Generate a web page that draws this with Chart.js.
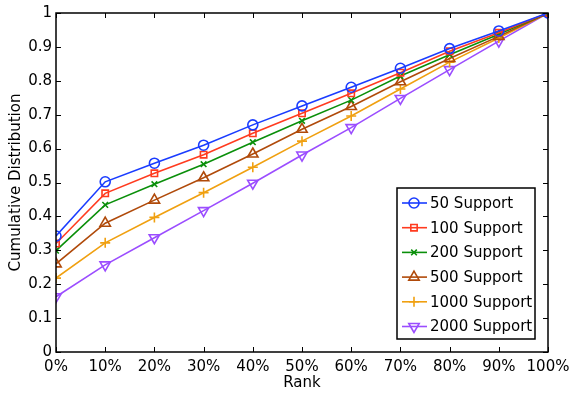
<!DOCTYPE html>
<html>
<head>
  <meta charset="UTF-8">
  <title>Cumulative Distribution by Rank</title>
  <script src="https://cdn.jsdelivr.net/npm/chart.js"></script>
  <style>
    html, body {
      margin: 0;
      padding: 0;
      background: white;
    }
    #wrap {
      width: 570px;
      height: 394px;
    }
  </style>
</head>
<body>
  <div id="wrap"><canvas id="cdf"></canvas></div>

  <script>
    const rankPct = [0, 10, 20, 30, 40, 50, 60, 70, 80, 90, 100];
    const support50   = [0.342, 0.502, 0.557, 0.610, 0.670, 0.726, 0.781, 0.837, 0.895, 0.947, 1];
    const support100  = [0.320, 0.468, 0.527, 0.582, 0.645, 0.704, 0.763, 0.824, 0.887, 0.942, 1];
    const support200  = [0.299, 0.434, 0.495, 0.554, 0.619, 0.682, 0.743, 0.814, 0.877, 0.937, 1];
    const support500  = [0.260, 0.380, 0.448, 0.514, 0.584, 0.657, 0.724, 0.797, 0.866, 0.931, 1];
    const support1000 = [0.218, 0.322, 0.397, 0.470, 0.545, 0.622, 0.696, 0.776, 0.855, 0.926, 1];
    const support2000 = [0.163, 0.257, 0.337, 0.417, 0.498, 0.581, 0.662, 0.748, 0.833, 0.917, 1];
    const seriesLabels = ["50 Support", "100 Support", "200 Support", "500 Support", "1000 Support", "2000 Support"];

    const FONT = "'DejaVu Sans', Arial, sans-serif";

    const styles = [
      { color: "#1a3cff", pointStyle: "circle",   rot: 0,   r: 5 },
      { color: "#ff3b1f", pointStyle: "rect",     rot: 0,   r: 4.5 },
      { color: "#0a8f0a", pointStyle: "crossRot", rot: 0,   r: 4 },
      { color: "#b04a0a", pointStyle: "triangle", rot: 0,   r: 6 },
      { color: "#f0a010", pointStyle: "cross",    rot: 0,   r: 5 },
      { color: "#9b4dff", pointStyle: "triangle", rot: 180, r: 6 }
    ];

    const allSeries = [support50, support100, support200, support500, support1000, support2000];

    const datasets = allSeries.map((vals, i) => ({
      label: seriesLabels[i],
      data: rankPct.map((x, j) => ({ x: x, y: vals[j] })),
      borderColor: styles[i].color,
      backgroundColor: "rgba(0,0,0,0)",
      borderWidth: 1.6,
      pointStyle: styles[i].pointStyle,
      pointRotation: styles[i].rot,
      pointRadius: styles[i].r,
      pointBorderWidth: 1.6,
      pointBorderColor: styles[i].color,
      pointBackgroundColor: "rgba(0,0,0,0)",
      tension: 0
    }));

    // MATLAB-like box with inward ticks on all four sides
    const boxPlugin = {
      id: "box",
      afterDatasetsDraw(chart) {
        const { ctx, chartArea: a, scales: { x, y } } = chart;
        ctx.save();
        ctx.strokeStyle = "#000";
        ctx.lineWidth = 1.5;
        ctx.strokeRect(a.left, a.top, a.right - a.left, a.bottom - a.top);
        ctx.lineWidth = 1;
        ctx.beginPath();
        x.ticks.forEach(t => {
          const px = Math.round(x.getPixelForValue(t.value)) + 0.5;
          ctx.moveTo(px, a.bottom); ctx.lineTo(px, a.bottom - 5);
          ctx.moveTo(px, a.top); ctx.lineTo(px, a.top + 5);
        });
        y.ticks.forEach(t => {
          const py = Math.round(y.getPixelForValue(t.value)) + 0.5;
          ctx.moveTo(a.left, py); ctx.lineTo(a.left + 5, py);
          ctx.moveTo(a.right, py); ctx.lineTo(a.right - 5, py);
        });
        ctx.stroke();
        ctx.restore();
      }
    };

    // legend box inside the plot, lower right
    const legendPlugin = {
      id: "insideLegend",
      afterDraw(chart) {
        const { ctx } = chart;
        const left = 397, top = 188, w = 138, h = 151;
        ctx.save();
        ctx.fillStyle = "#fff";
        ctx.fillRect(left, top, w, h);
        ctx.strokeStyle = "#000";
        ctx.lineWidth = 1.5;
        ctx.strokeRect(left, top, w, h);
        chart.data.datasets.forEach((ds, i) => {
          const cy = 203 + i * 24.7;
          ctx.strokeStyle = ds.borderColor;
          ctx.lineWidth = 1.6;
          ctx.beginPath();
          ctx.moveTo(402, cy); ctx.lineTo(427, cy);
          ctx.stroke();
          ctx.fillStyle = "rgba(0,0,0,0)";
          Chart.helpers.drawPoint(ctx, {
            pointStyle: ds.pointStyle,
            rotation: ds.pointRotation,
            radius: ds.pointRadius,
            borderWidth: 1.6
          }, 414, cy);
          ctx.fillStyle = "#000";
          ctx.font = "15px " + FONT;
          ctx.textBaseline = "middle";
          ctx.textAlign = "left";
          ctx.fillText(ds.label, 430, cy + 1);
        });
        ctx.restore();
      }
    };

    new Chart(document.getElementById("cdf"), {
      type: "line",
      data: { datasets: datasets },
      options: {
        responsive: true,
        maintainAspectRatio: false,
        animation: false,
        layout: { padding: { top: 13, right: 0, left: 7, bottom: 0 } },
        plugins: {
          legend: { display: false },
          tooltip: { enabled: false }
        },
        scales: {
          x: {
            type: "linear",
            min: 0,
            max: 100,
            ticks: {
              stepSize: 10,
              color: "#000",
              font: { family: FONT, size: 15 },
              padding: 6,
              maxRotation: 0,
              callback: v => v + "%"
            },
            grid: { display: false, drawTicks: false },
            border: { display: false },
            title: {
              display: true,
              text: "Rank",
              color: "#000",
              font: { family: FONT, size: 15 },
              padding: { top: -6, bottom: 2 }
            },
            afterFit: s => { s.height = 42; s.paddingRight = 22; s.paddingLeft = 0; }
          },
          y: {
            min: 0,
            max: 1,
            ticks: {
              stepSize: 0.1,
              color: "#000",
              font: { family: FONT, size: 15 },
              padding: 4,
              callback: v => Math.round(v * 10) / 10
            },
            grid: { display: false, drawTicks: false },
            border: { display: false },
            title: {
              display: true,
              text: "Cumulative Distribution",
              color: "#000",
              font: { family: FONT, size: 15 },
              padding: { top: 0, bottom: 0 }
            },
            afterFit: s => { s.width = 49; s.paddingTop = 0; s.paddingBottom = 0; }
          }
        }
      },
      plugins: [boxPlugin, legendPlugin]
    });
  </script>
</body>
</html>
